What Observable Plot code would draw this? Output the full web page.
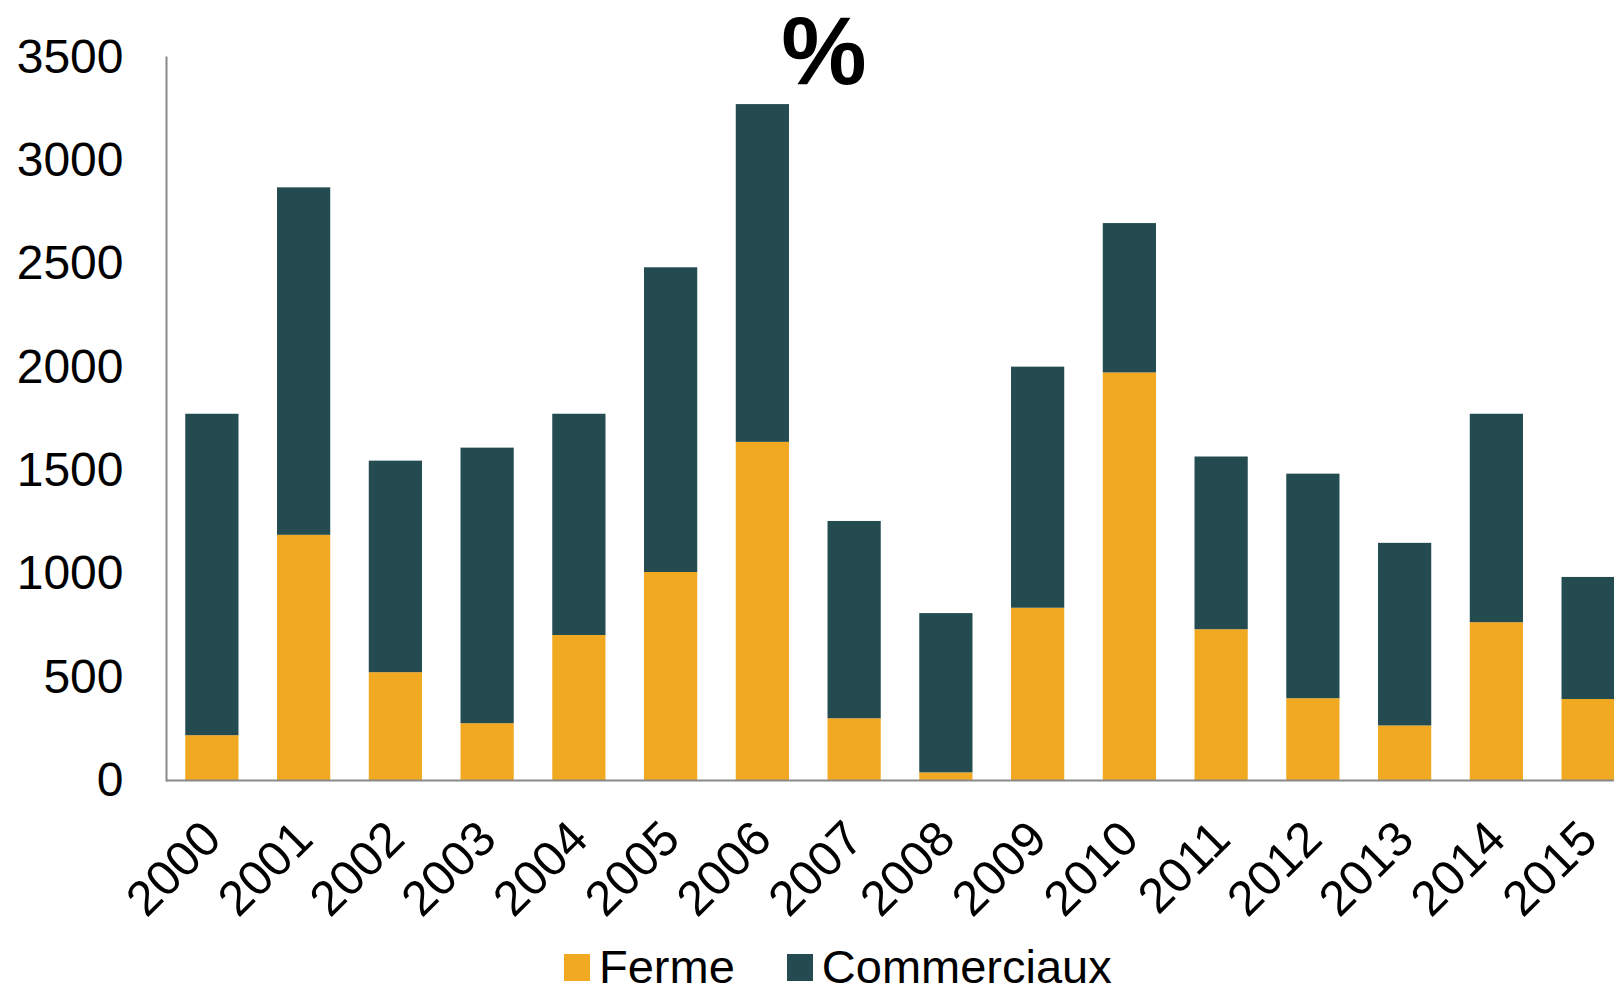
<!DOCTYPE html>
<html>
<head>
<meta charset="utf-8">
<script src="https://cdn.jsdelivr.net/npm/d3@7"></script>
<script src="https://cdn.jsdelivr.net/npm/@observablehq/plot@0.6"></script>
<style>
  html, body { margin: 0; padding: 0; background: #fff; overflow: hidden; }
  #wrap { position: relative; width: 1614px; height: 994px; font-family: "Liberation Sans", Arial, sans-serif; }
  #title { position: absolute; left: 824px; top: 3px; transform: translateX(-50%); font-size: 96px; font-weight: bold; line-height: 1; color: #000; }
  #legend { position: absolute; left: 564px; top: 947px; display: flex; align-items: center; font-size: 47px; line-height: 40px; color: #000; }
  .sw { width: 26px; height: 27px; display: inline-block; margin-right: 9px; }
  .item { display: flex; align-items: center; margin-right: 52px; }
</style>
</head>
<body>
<div id="wrap">
  <div id="chart"></div>
  <div id="title">%</div>
  <div id="legend"></div>
</div>
<script>
const years = ["2000","2001","2002","2003","2004","2005","2006","2007","2008","2009","2010","2011","2012","2013","2014","2015"];
const ferme = [217, 1187, 522, 275, 702, 1007, 1637, 299, 37, 834, 1973, 730, 396, 264, 764, 392];
const commerciaux = [1556, 1682, 1024, 1334, 1071, 1475, 1635, 955, 771, 1167, 723, 836, 1087, 884, 1009, 591];
const seriesNames = ["Ferme", "Commerciaux"];
const seriesColors = ["#F2A922", "#234B50"];
const yTicks = [0, 500, 1000, 1500, 2000, 2500, 3000, 3500];

const data = [];
years.forEach((y, i) => {
  data.push({year: y, series: "Ferme", value: ferme[i]});
  data.push({year: y, series: "Commerciaux", value: commerciaux[i]});
});

const chart = Plot.plot({
  width: 1614,
  height: 945,
  marginLeft: 166,
  marginRight: -20,
  marginTop: 57,
  marginBottom: 165,
  style: {fontFamily: "'Liberation Sans', Arial, sans-serif", fontSize: "47px", color: "#000", background: "#fff", overflow: "visible"},
  x: {domain: years, paddingInner: 0.42, paddingOuter: 0.21, round: false, label: null},
  y: {domain: [0, 3500], label: null},
  color: {domain: seriesNames, range: seriesColors},
  marks: [
    Plot.barY(data, {x: "year", y: "value", fill: "series", order: seriesNames}),
    Plot.ruleY([0], {stroke: "#898989", strokeWidth: 2}),
    Plot.frame({anchor: "left", stroke: "#898989", strokeWidth: 2}),
    Plot.axisY({ticks: yTicks, tickSize: 0, tickPadding: 43, tickFormat: d => String(d), label: null, fontSize: 48, fill: "#000"}),
    Plot.axisX({tickSize: 0, tickPadding: 50, tickRotate: -45, label: null, fontSize: 49, fill: "#000"})
  ]
});
document.getElementById("chart").appendChild(chart);

const legend = document.getElementById("legend");
seriesNames.forEach((name, i) => {
  const item = document.createElement("span");
  item.className = "item";
  const sw = document.createElement("span");
  sw.className = "sw";
  sw.style.background = seriesColors[i];
  item.appendChild(sw);
  item.appendChild(document.createTextNode(name));
  legend.appendChild(item);
});
</script>
</body>
</html>
